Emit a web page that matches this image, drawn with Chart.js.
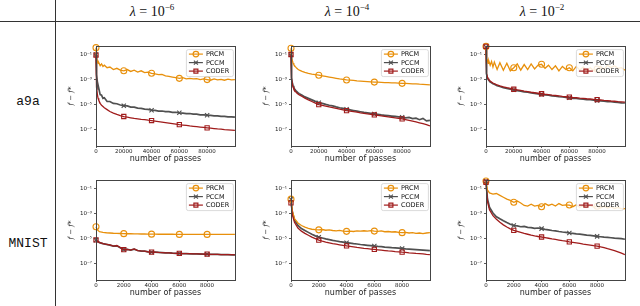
<!DOCTYPE html>
<html>
<head>
<meta charset="utf-8">
<script src="https://cdn.jsdelivr.net/npm/chart.js@4.4.1/dist/chart.umd.min.js"></script>
<style>
  body { margin: 0; width: 640px; height: 306px; background: #fff; position: relative; overflow: hidden; }
  .vline { position: absolute; left: 55px; top: 0; width: 1px; height: 306px; background: #333; }
  .hline { position: absolute; left: 0; top: 21px; width: 640px; height: 1px; background: #333; }
  .head { position: absolute; top: 2px; font-family: "Liberation Serif", serif; font-size: 14px; transform: translateX(-50%); white-space: nowrap; color: #111; }
  .head sup { font-size: 9px; }
  .rowlab { position: absolute; left: 28px; font-family: "Liberation Mono", monospace; font-size: 13px; transform: translate(-50%, -50%); color: #111; }
  canvas { position: absolute; }
</style>
</head>
<body>
<div class="vline"></div>
<div class="hline"></div>
<div class="head" style="left:152px"><i>λ</i> = 10<sup>−6</sup></div>
<div class="head" style="left:347px"><i>λ</i> = 10<sup>−4</sup></div>
<div class="head" style="left:542px"><i>λ</i> = 10<sup>−2</sup></div>
<div class="rowlab" style="top:101px">a9a</div>
<div class="rowlab" style="top:243px">MNIST</div>

<canvas id="c1" width="174" height="122" style="left:66px;top:41px"></canvas>
<canvas id="c2" width="174" height="122" style="left:261px;top:41px"></canvas>
<canvas id="c3" width="174" height="122" style="left:456px;top:41px"></canvas>
<canvas id="c4" width="174" height="122" style="left:66px;top:175px"></canvas>
<canvas id="c5" width="174" height="122" style="left:261px;top:175px"></canvas>
<canvas id="c6" width="174" height="122" style="left:456px;top:175px"></canvas>

<script>
// number of passes (x) for each dataset
const passesA9a = [
  0, 250, 500, 1000, 1500, 2000, 3000, 4000, 5000, 6000, 8000, 10000,
  12500, 15000, 17500, 20000, 22500, 25000, 27500, 30000, 32500, 35000, 37500, 40000,
  42500, 45000, 47500, 50000, 52500, 55000, 57500, 60000, 62500, 65000, 67500, 70000,
  72500, 75000, 77500, 80000, 82500, 85000, 87500, 90000, 92500, 95000, 97500, 100000
];
const passesMnist = [
  0, 100, 250, 500, 750, 1000,
  1250, 1500, 1750, 2000, 2250, 2500, 2750, 3000, 3250, 3500, 3750, 4000,
  4250, 4500, 4750, 5000, 5250, 5500, 5750, 6000, 6250, 6500, 6750, 7000,
  7250, 7500, 7750, 8000, 8250, 8500, 8750, 9000, 9250, 9500, 9750, 10000
];

const ticksA9a = [0, 20000, 40000, 60000, 80000];
const ticksMnist = [0, 2000, 4000, 6000, 8000];
const gapTicks = [1e-1, 1e-3, 1e-5, 1e-7];
const methods = ['PRCM', 'PCCM', 'CODER'];

// log10(f - f*)
const a9a6Prcm = [
  -0.45, -0.9, -1.3, -1.55, -1.7, -1.65, -1.9, -1.75, -1.95, -1.85, -2.05, -2.0,
  -2.2, -2.1, -2.25, -2.3, -2.2, -2.35, -2.25, -2.4, -2.3, -2.45, -2.4, -2.5,
  -2.55, -2.6, -2.58, -2.7, -2.75, -2.8, -2.85, -2.9, -2.85, -2.95, -2.9, -2.95,
  -2.92, -3.0, -2.95, -3.0, -3.05, -2.95, -3.02, -2.98, -3.05, -2.97, -3.02, -3.0
];
const a9a6Pccm = [
  -1.0, -2.0, -2.6, -3.2, -3.75, -3.7, -4.2, -4.25, -4.5, -4.45, -4.75, -4.75,
  -4.9, -4.93, -5.03, -5.08, -5.1, -5.2, -5.2, -5.28, -5.3, -5.36, -5.38, -5.45,
  -5.46, -5.51, -5.51, -5.56, -5.56, -5.61, -5.61, -5.65, -5.67, -5.71, -5.71, -5.76,
  -5.76, -5.81, -5.81, -5.84, -5.86, -5.89, -5.89, -5.94, -5.94, -5.98, -5.98, -6.0
];
const a9a6Coder = [
  -1.05, -2.8, -3.6, -4.2, -4.5, -4.65, -4.9, -5.05, -5.15, -5.25, -5.4, -5.55,
  -5.68, -5.78, -5.87, -5.95, -6.0, -6.05, -6.1, -6.13, -6.17, -6.2, -6.24, -6.27,
  -6.31, -6.35, -6.39, -6.43, -6.47, -6.51, -6.55, -6.6, -6.63, -6.66, -6.7, -6.73,
  -6.76, -6.79, -6.82, -6.85, -6.88, -6.91, -6.94, -6.96, -6.99, -7.01, -7.03, -7.05
];

const a9a4Prcm = [
  -0.5, -1.0, -1.3, -1.5, -1.68, -1.8, -1.95, -2.08, -2.18, -2.25, -2.35, -2.42,
  -2.5, -2.56, -2.6, -2.65, -2.7, -2.75, -2.8, -2.85, -2.9, -2.95, -2.99, -3.03,
  -3.05, -3.07, -3.1, -3.12, -3.14, -3.16, -3.18, -3.2, -3.21, -3.22, -3.24, -3.25,
  -3.26, -3.27, -3.28, -3.3, -3.31, -3.32, -3.34, -3.35, -3.37, -3.38, -3.4, -3.42
];
const a9a4Pccm = [
  -1.0, -2.3, -2.85, -3.3, -3.5, -3.65, -3.82, -3.95, -4.05, -4.12, -4.25, -4.38,
  -4.5, -4.62, -4.74, -4.85, -4.9, -4.98, -5.05, -5.1, -5.18, -5.25, -5.3, -5.37,
  -5.42, -5.47, -5.52, -5.57, -5.62, -5.66, -5.7, -5.74, -5.78, -5.82, -5.85, -5.88,
  -5.91, -5.94, -5.97, -6.0, -6.05, -6.02, -6.12, -6.08, -6.2, -6.1, -6.3, -6.25
];
const a9a4Coder = [
  -1.0, -2.4, -2.95, -3.4, -3.6, -3.75, -3.92, -4.05, -4.15, -4.22, -4.35, -4.48,
  -4.62, -4.75, -4.88, -5.0, -5.06, -5.12, -5.18, -5.24, -5.3, -5.36, -5.42, -5.48,
  -5.52, -5.56, -5.6, -5.65, -5.69, -5.73, -5.77, -5.82, -5.86, -5.9, -5.94, -5.98,
  -6.02, -6.06, -6.1, -6.14, -6.2, -6.26, -6.32, -6.38, -6.45, -6.52, -6.6, -6.7
];

const a9a2Prcm = [
  -0.35, -1.2, -1.5, -1.45, -1.7, -1.5, -1.85, -1.55, -2.0, -1.6, -2.2, -1.65,
  -2.25, -1.7, -2.3, -2.05, -1.75, -2.25, -1.8, -2.2, -1.75, -2.15, -1.85, -1.78,
  -2.1, -1.85, -2.2, -1.9, -2.3, -1.95, -2.2, -2.05, -2.3, -1.95, -2.25, -2.0,
  -2.35, -2.05, -2.3, -2.15, -1.95, -2.2, -1.85, -2.05, -1.9, -2.1, -2.05, -2.25
];
const a9a2Pccm = [
  -0.4, -2.05, -2.55, -2.85, -2.98, -3.05, -3.18, -3.26, -3.33, -3.38, -3.49, -3.55,
  -3.64, -3.7, -3.77, -3.82, -3.88, -3.92, -3.98, -4.01, -4.07, -4.1, -4.15, -4.18,
  -4.23, -4.25, -4.3, -4.32, -4.37, -4.39, -4.43, -4.45, -4.5, -4.51, -4.55, -4.56,
  -4.6, -4.61, -4.65, -4.66, -4.7, -4.72, -4.76, -4.77, -4.81, -4.82, -4.86, -4.87
];
const a9a2Coder = [
  -0.35, -2.0, -2.5, -2.8, -2.92, -3.0, -3.12, -3.2, -3.27, -3.33, -3.43, -3.5,
  -3.58, -3.65, -3.71, -3.77, -3.82, -3.87, -3.92, -3.96, -4.01, -4.05, -4.09, -4.13,
  -4.17, -4.2, -4.24, -4.27, -4.3, -4.34, -4.37, -4.4, -4.43, -4.45, -4.48, -4.5,
  -4.53, -4.55, -4.58, -4.6, -4.63, -4.66, -4.68, -4.71, -4.73, -4.76, -4.78, -4.8
];

const mnist6Prcm = [
  -4.05, -4.3, -4.45, -4.5, -4.53, -4.55,
  -4.57, -4.58, -4.59, -4.6, -4.61, -4.61, -4.62, -4.62, -4.63, -4.63, -4.64, -4.64,
  -4.64, -4.65, -4.65, -4.65, -4.65, -4.65, -4.66, -4.66, -4.66, -4.66, -4.66, -4.66,
  -4.66, -4.66, -4.66, -4.66, -4.66, -4.66, -4.66, -4.66, -4.66, -4.66, -4.66, -4.66
];
const mnist6Pccm = [
  -5.12, -5.2, -5.32, -5.4, -5.46, -5.52,
  -5.6, -5.57, -5.72, -5.87, -5.86, -5.92, -5.84, -5.95, -5.99, -6.0, -6.05, -6.08,
  -6.08, -6.1, -6.12, -6.14, -6.14, -6.16, -6.17, -6.18, -6.19, -6.2, -6.21, -6.21,
  -6.22, -6.23, -6.23, -6.24, -6.25, -6.26, -6.26, -6.27, -6.27, -6.28, -6.29, -6.29
];
const mnist6Coder = [
  -5.1, -5.2, -5.3, -5.4, -5.45, -5.5,
  -5.6, -5.55, -5.72, -5.88, -5.85, -5.92, -5.82, -5.95, -5.98, -6.0, -6.05, -6.08,
  -6.07, -6.1, -6.12, -6.14, -6.13, -6.16, -6.17, -6.18, -6.19, -6.2, -6.2, -6.21,
  -6.22, -6.22, -6.23, -6.24, -6.25, -6.25, -6.26, -6.27, -6.27, -6.28, -6.28, -6.29
];

const mnist4Prcm = [
  -1.85, -2.8, -3.4, -3.75, -3.95, -4.08,
  -4.18, -4.25, -4.28, -4.3, -4.27, -4.33, -4.3, -4.35, -4.38, -4.34, -4.4, -4.42,
  -4.4, -4.43, -4.38, -4.4, -4.37, -4.4, -4.36, -4.4, -4.42, -4.38, -4.45, -4.43,
  -4.47, -4.45, -4.5, -4.52, -4.5, -4.55, -4.52, -4.58, -4.55, -4.6, -4.55, -4.52
];
const mnist4Pccm = [
  -1.85, -2.9, -3.5, -3.95, -4.2, -4.35,
  -4.5, -4.65, -4.78, -4.88, -4.95, -5.02, -5.08, -5.14, -5.19, -5.24, -5.28, -5.32,
  -5.36, -5.4, -5.43, -5.47, -5.5, -5.53, -5.56, -5.59, -5.62, -5.64, -5.67, -5.69,
  -5.72, -5.74, -5.76, -5.78, -5.81, -5.83, -5.85, -5.87, -5.89, -5.91, -5.93, -5.95
];
const mnist4Coder = [
  -2.15, -3.1, -3.7, -4.15, -4.4, -4.58,
  -4.73, -4.88, -5.0, -5.12, -5.2, -5.27, -5.33, -5.39, -5.44, -5.49, -5.54, -5.58,
  -5.62, -5.66, -5.7, -5.73, -5.77, -5.8, -5.83, -5.86, -5.89, -5.92, -5.95, -5.98,
  -6.0, -6.03, -6.05, -6.08, -6.1, -6.13, -6.15, -6.18, -6.2, -6.22, -6.25, -6.27
];

const mnist2Prcm = [
  -0.4, -1.1, -1.35, -1.45, -1.4, -1.55,
  -1.7, -1.85, -1.95, -2.1, -2.0, -2.15, -2.35, -2.4, -2.25, -2.4, -2.35, -2.45,
  -2.2, -2.35, -2.25, -2.4, -2.2, -2.35, -2.3, -2.32, -2.45, -2.3, -2.5, -2.38,
  -2.5, -2.35, -2.48, -2.42, -2.55, -2.4, -2.55, -2.45, -2.6, -2.5, -2.62, -2.6
];
const mnist2Pccm = [
  -0.4, -1.8, -2.5, -2.95, -3.25, -3.42,
  -3.58, -3.72, -3.85, -3.95, -3.98, -4.05, -4.02, -4.1, -4.12, -4.18, -4.15, -4.2,
  -4.26, -4.3, -4.35, -4.38, -4.43, -4.47, -4.5, -4.55, -4.58, -4.62, -4.64, -4.68,
  -4.72, -4.74, -4.78, -4.82, -4.85, -4.88, -4.9, -4.93, -4.96, -4.98, -5.0, -5.05
];
const mnist2Coder = [
  -0.5, -2.0, -2.7, -3.17, -3.45, -3.7,
  -3.9, -4.07, -4.22, -4.34, -4.42, -4.5, -4.58, -4.65, -4.72, -4.78, -4.83, -4.87,
  -4.92, -4.97, -5.02, -5.06, -5.11, -5.16, -5.2, -5.26, -5.3, -5.34, -5.38, -5.43,
  -5.47, -5.51, -5.56, -5.6, -5.66, -5.72, -5.8, -5.87, -5.95, -6.05, -6.15, -6.27
];

const colors = { PRCM: '#e8900c', PCCM: '#505050', CODER: '#a01c1c' };
const markers = { PRCM: 'circle', PCCM: 'crossRot', CODER: 'rect' };
const drawOrder = { PRCM: 1, PCCM: 2, CODER: 0 };

const supMap = { '-': '⁻', '0': '⁰', '1': '¹', '2': '²', '3': '³', '4': '⁴', '5': '⁵', '6': '⁶', '7': '⁷', '8': '⁸', '9': '⁹' };
function powLabel(v) {
  const e = String(Math.round(Math.log10(v)));
  return '10' + e.split('').map(c => supMap[c]).join('');
}

// box round the plot, like matplotlib spines
const framePlugin = {
  id: 'frame',
  afterDatasetsDraw(chart) {
    const a = chart.chartArea, c = chart.ctx;
    c.save();
    c.strokeStyle = '#444';
    c.lineWidth = 1;
    c.strokeRect(Math.round(a.left) + 0.5, Math.round(a.top) + 0.5, Math.round(a.right - a.left), Math.round(a.bottom - a.top));
    c.restore();
  }
};

// legend in the upper right corner of the plot
const legendPlugin = {
  id: 'innerLegend',
  afterDraw(chart) {
    const a = chart.chartArea, c = chart.ctx;
    const w = 47, h = 27;
    const x0 = a.right - w - 2, y0 = a.top + 3;
    c.save();
    c.fillStyle = 'rgba(255,255,255,0.85)';
    c.strokeStyle = '#d0d0d0';
    c.lineWidth = 0.8;
    c.beginPath();
    c.roundRect(x0 + 0.5, y0 + 0.5, w, h, 2);
    c.fill();
    c.stroke();
    chart.data.datasets.forEach((ds, i) => {
      const y = y0 + 5 + i * 8.5;
      c.strokeStyle = ds.borderColor;
      c.lineWidth = 1.2;
      c.beginPath();
      c.moveTo(x0 + 3, y);
      c.lineTo(x0 + 17, y);
      c.stroke();
      c.fillStyle = 'rgba(255,255,255,0)';
      Chart.helpers.drawPoint(c, { pointStyle: ds.pointStyle, radius: 2.8, rotation: 0, borderWidth: 1 }, x0 + 10, y);
      c.fillStyle = '#111';
      c.font = '6.5px "DejaVu Sans"';
      c.textBaseline = 'middle';
      c.fillText(ds.label, x0 + 20, y + 0.3);
    });
    c.restore();
  }
};

function makeChart(id, passes, series, xMax, xTicks) {
  const marks = xTicks;
  const datasets = methods.map((m, i) => ({
    label: m,
    data: passes.map((x, j) => ({ x: x, y: Math.pow(10, series[i][j]) })),
    borderColor: colors[m],
    backgroundColor: colors[m],
    borderWidth: m === 'PCCM' ? 1.7 : 1.3,
    pointStyle: markers[m],
    pointRadius: ctx => marks.includes(passes[ctx.dataIndex]) ? 3 : 0,
    pointBorderWidth: 1.1,
    pointBorderColor: colors[m],
    pointBackgroundColor: 'rgba(255,255,255,0)',
    tension: 0,
    order: drawOrder[m],
    clip: { left: 5, top: 5, right: 0, bottom: 0 }
  }));

  new Chart(document.getElementById(id), {
    type: 'line',
    data: { datasets },
    plugins: [framePlugin, legendPlugin],
    options: {
      responsive: false,
      animation: false,
      devicePixelRatio: 1,
      layout: { padding: { top: 4, right: 4, left: 0, bottom: 0 } },
      plugins: { legend: { display: false }, tooltip: { enabled: false } },
      scales: {
        x: {
          type: 'linear',
          min: 0,
          max: xMax,
          afterBuildTicks: s => { s.ticks = xTicks.map(v => ({ value: v })); },
          afterFit: s => { s.height = 17; },
          grid: { drawOnChartArea: false, drawTicks: true, tickLength: 2, color: '#333', lineWidth: 0.8 },
          border: { display: false },
          ticks: { autoSkip: false, maxRotation: 0, padding: 1, color: '#222', font: { family: 'DejaVu Sans', size: 5.5, lineHeight: 1 }, callback: v => String(v) },
          title: { display: true, text: 'number of passes', color: '#222', padding: { top: 0, bottom: 0 }, font: { family: 'DejaVu Sans', size: 8, lineHeight: 1 } }
        },
        y: {
          type: 'logarithmic',
          min: 5e-9,
          max: 0.47,
          afterBuildTicks: s => { s.ticks = gapTicks.map(v => ({ value: v })); },
          afterFit: s => { s.width = 30; },
          grid: { drawOnChartArea: false, drawTicks: true, tickLength: 2, color: '#333', lineWidth: 0.8 },
          border: { display: false },
          ticks: { autoSkip: false, padding: 2, color: '#222', font: { family: 'DejaVu Sans', size: 5.5, lineHeight: 1 }, callback: v => powLabel(v) },
          title: { display: true, text: 'f − f*', color: '#222', padding: { top: 2, bottom: 0 }, font: { family: 'DejaVu Serif', style: 'italic', size: 7, lineHeight: 1 } }
        }
      }
    }
  });
}

makeChart('c1', passesA9a, [a9a6Prcm, a9a6Pccm, a9a6Coder], 100000, ticksA9a);
makeChart('c2', passesA9a, [a9a4Prcm, a9a4Pccm, a9a4Coder], 100000, ticksA9a);
makeChart('c3', passesA9a, [a9a2Prcm, a9a2Pccm, a9a2Coder], 100000, ticksA9a);
makeChart('c4', passesMnist, [mnist6Prcm, mnist6Pccm, mnist6Coder], 10000, ticksMnist);
makeChart('c5', passesMnist, [mnist4Prcm, mnist4Pccm, mnist4Coder], 10000, ticksMnist);
makeChart('c6', passesMnist, [mnist2Prcm, mnist2Pccm, mnist2Coder], 10000, ticksMnist);
</script>
</body>
</html>
